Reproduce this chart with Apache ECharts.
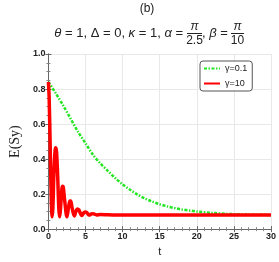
<!DOCTYPE html>
<html>
<head>
<meta charset="utf-8">
<script src="https://cdn.jsdelivr.net/npm/echarts@6/dist/echarts.min.js"></script>
<style>
html,body{margin:0;padding:0;background:#fff;}
#c{width:279px;height:262px;}
</style>
</head>
<body>
<div id="c"></div>
<script>
// Data
var tGreen = [0, 1, 2, 3, 4, 5, 6, 7, 8, 9, 10, 11, 12, 13, 14, 15, 16, 17, 18, 19, 20, 22, 24, 26, 28, 30];
var yGreen = [0.84, 0.775, 0.705, 0.63, 0.555, 0.49, 0.425, 0.375, 0.333, 0.292, 0.255, 0.225, 0.197, 0.175, 0.157, 0.142, 0.13, 0.12, 0.112, 0.106, 0.101, 0.093, 0.087, 0.084, 0.082, 0.081];
var tRed = [0, 0.1, 0.25, 0.4, 0.5, 0.6, 0.75, 0.9, 1.0, 1.1, 1.25, 1.4, 1.5, 1.6, 1.75, 1.9, 2.0, 2.2, 2.5, 2.7, 2.9, 3.0, 3.2, 3.5, 3.7, 3.9, 4.1, 4.5, 4.8, 5.0, 5.2, 5.5, 5.8, 6.0, 6.5, 7, 8, 10, 15, 20, 25, 30];
var yRed = [0.84, 0.75, 0.45, 0.15, 0.07, 0.12, 0.33, 0.45, 0.465, 0.44, 0.30, 0.12, 0.07, 0.10, 0.19, 0.245, 0.24, 0.16, 0.07, 0.12, 0.16, 0.16, 0.12, 0.075, 0.10, 0.115, 0.11, 0.078, 0.095, 0.098, 0.093, 0.08, 0.087, 0.088, 0.081, 0.083, 0.082, 0.08, 0.08, 0.08, 0.08, 0.08];
var seriesNames = ['\u03b3=0.1', '\u03b3=10'];
var xTicks = [0, 5, 10, 15, 20, 25, 30];
var yTicks = [0, 0.2, 0.4, 0.6, 0.8, 1.0];

function zip(a, b) { return a.map(function (v, i) { return [v, b[i]]; }); }

var chart = echarts.init(document.getElementById('c'), null, {renderer: 'canvas'});
var axisCol = '#666';
var labelFont = {fontFamily: 'Liberation Sans, Arial, sans-serif', fontSize: 9, fontWeight: 'bold', color: '#222'};
var gf = 'Liberation Sans, Arial, sans-serif';

var option = {
  animation: false,
  grid: {left: 27, right: 5, top: 54, bottom: 29, containLabel: false},
  legend: {
    left: 200, top: 61, orient: 'vertical',
    padding: [3, 5, 3, 3],
    itemWidth: 16, itemHeight: 10, itemGap: 6,
    borderColor: '#555', borderWidth: 1, borderRadius: 3,
    backgroundColor: '#fff',
    itemStyle: {color: 'rgba(0,0,0,0)', borderWidth: 0, opacity: 0},
    textStyle: {fontFamily: gf, fontSize: 9, color: '#222'},
    data: seriesNames
  },
  xAxis: [{
    type: 'value', min: xTicks[0], max: xTicks[xTicks.length - 1], interval: 5,
    name: 't', nameLocation: 'middle', nameGap: 16,
    nameTextStyle: {fontFamily: gf, fontSize: 11, color: '#222'},
    axisLine: {lineStyle: {color: axisCol, width: 1}},
    axisTick: {inside: true, length: 3, lineStyle: {color: axisCol}},
    minorTick: {show: true, splitNumber: 5, length: 2, lineStyle: {color: '#888'}},
    splitLine: {show: true, lineStyle: {color: '#e8e8e8', width: 1}},
    axisLabel: Object.assign({margin: 3}, labelFont)
  }, {
    type: 'value', min: 0, max: 30, interval: 5, position: 'top',
    axisLine: {show: true, lineStyle: {color: axisCol, width: 1}},
    axisTick: {inside: true, length: 3, lineStyle: {color: axisCol}},
    minorTick: {show: true, splitNumber: 5, length: 2, lineStyle: {color: '#888'}},
    splitLine: {show: false}, axisLabel: {show: false}
  }],
  yAxis: [{
    type: 'value', min: yTicks[0], max: yTicks[yTicks.length - 1], interval: 0.2,
    name: 'E(Sy)', nameLocation: 'middle', nameGap: 19,
    nameTextStyle: {fontFamily: 'Liberation Serif, Times New Roman, serif', fontSize: 14, color: '#222'},
    axisLine: {show: true, lineStyle: {color: axisCol, width: 1}},
    axisTick: {show: true, inside: true, length: 3, lineStyle: {color: axisCol}},
    minorTick: {show: true, splitNumber: 4, length: 2, lineStyle: {color: '#888'}},
    splitLine: {show: true, lineStyle: {color: '#e8e8e8', width: 1}},
    axisLabel: Object.assign({margin: 3, formatter: function (v) { return v.toFixed(1); }}, labelFont)
  }, {
    type: 'value', min: 0, max: 1, interval: 0.2, position: 'right',
    axisLine: {show: true, lineStyle: {color: axisCol, width: 1}},
    axisTick: {show: true, inside: true, length: 3, lineStyle: {color: axisCol}},
    minorTick: {show: true, splitNumber: 4, length: 2, lineStyle: {color: '#888'}},
    splitLine: {show: false}, axisLabel: {show: false}
  }],
  series: [{
    name: seriesNames[0], type: 'line', symbol: 'none', smooth: 0.3,
    data: zip(tGreen, yGreen),
    lineStyle: {color: '#22e622', width: 2.5, type: [3, 1.5, 1.5, 1.5]},
    itemStyle: {color: '#22e622'}
  }, {
    name: seriesNames[1], type: 'line', symbol: 'none', smooth: 0.35,
    data: zip(tRed, yRed),
    lineStyle: {color: '#ff0000', width: 3.5},
    itemStyle: {color: '#ff0000'}
  }],
  graphic: [
    {type: 'text', x: 147, y: 9, style: {text: '(b)', font: '12px ' + gf, fill: '#222', align: 'center', verticalAlign: 'middle'}},
    {type: 'text', x: 183, y: 33, style: {
      text: '{i|\u03b8} = 1, \u0394 = 0, {i|\u03ba} = 1, {i|\u03b1} =',
      font: '13px ' + gf, fill: '#222', align: 'right', verticalAlign: 'middle',
      rich: {i: {fontStyle: 'italic', fontSize: 13, fontFamily: gf, fill: '#222'}}
    }},
    {type: 'text', x: 194.5, y: 27, style: {text: '\u03c0', font: 'italic 12px ' + gf, fill: '#222', align: 'center', verticalAlign: 'middle'}},
    {type: 'line', shape: {x1: 187, y1: 33.5, x2: 202, y2: 33.5}, style: {stroke: '#222', lineWidth: 1}},
    {type: 'text', x: 194.5, y: 40.5, style: {text: '2.5', font: '12px ' + gf, fill: '#222', align: 'center', verticalAlign: 'middle'}},
    {type: 'text', x: 202, y: 33, style: {
      text: ', {i|\u03b2} =', font: '13px ' + gf, fill: '#222', align: 'left', verticalAlign: 'middle',
      rich: {i: {fontStyle: 'italic', fontSize: 13, fontFamily: gf, fill: '#222'}}
    }},
    {type: 'text', x: 237.5, y: 27, style: {text: '\u03c0', font: 'italic 12px ' + gf, fill: '#222', align: 'center', verticalAlign: 'middle'}},
    {type: 'line', shape: {x1: 231, y1: 33.5, x2: 244, y2: 33.5}, style: {stroke: '#222', lineWidth: 1}},
    {type: 'text', x: 237.5, y: 40.5, style: {text: '10', font: '12px ' + gf, fill: '#222', align: 'center', verticalAlign: 'middle'}}
  ]
};
chart.setOption(option);
</script>
</body>
</html>
